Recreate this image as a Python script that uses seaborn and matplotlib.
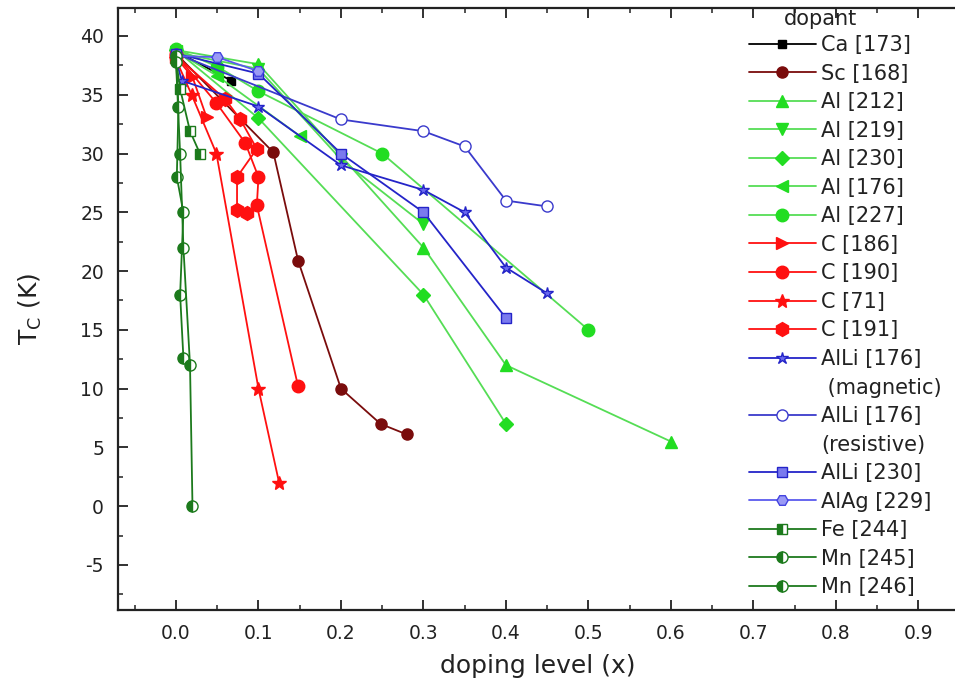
import numpy as np
import pandas as pd
import matplotlib
matplotlib.use("Agg")
import matplotlib.pyplot as plt
from matplotlib.lines import Line2D
from matplotlib.ticker import MultipleLocator
import seaborn as sns

sns.set_theme(style="white")
plt.rcParams['font.family'] = ['DejaVu Sans']
plt.rcParams['axes.unicode_minus'] = False

# ---------------- data ----------------
ca173_x = [0.0, 0.067]
ca173_y = [38.7, 36.2]
sc168_x = [0.0, 0.118, 0.148, 0.2, 0.248, 0.28]
sc168_y = [38.5, 30.1, 20.9, 10.0, 7.0, 6.1]
al212_x = [0.0, 0.1, 0.3, 0.4, 0.6]
al212_y = [38.8, 37.6, 22.0, 12.0, 5.5]
al219_x = [0.0, 0.1, 0.2, 0.3]
al219_y = [38.6, 37.2, 29.5, 24.0]
al230_x = [0.0, 0.1, 0.3, 0.4]
al230_y = [38.8, 33.0, 18.0, 7.0]
al176_x = [0.0, 0.05, 0.15]
al176_y = [38.7, 36.6, 31.5]
al227_x = [0.0, 0.05, 0.1, 0.25, 0.5]
al227_y = [38.9, 37.4, 35.3, 30.0, 15.0]
c186_x = [0.0, 0.02, 0.037]
c186_y = [38.2, 36.5, 33.1]
c190_x = [0.0, 0.049, 0.084, 0.1, 0.098, 0.148]
c190_y = [38.4, 34.3, 30.9, 28.0, 25.6, 10.2]
c71_x = [0.0, 0.019, 0.049, 0.1, 0.125]
c71_y = [38.0, 35.0, 30.0, 10.0, 2.0]
c191_x = [0.0, 0.06, 0.078, 0.098, 0.074, 0.074, 0.086]
c191_y = [38.3, 34.6, 32.9, 30.4, 28.0, 25.2, 24.9]
alli176m_x = [0.0, 0.007, 0.1, 0.2, 0.3, 0.35, 0.4, 0.45]
alli176m_y = [38.0, 36.2, 34.0, 29.0, 26.9, 25.0, 20.3, 18.1]
alli176r_x = [0.0, 0.2, 0.3, 0.35, 0.4, 0.45]
alli176r_y = [38.5, 32.9, 31.9, 30.6, 26.0, 25.5]
alli230_x = [0.0, 0.1, 0.2, 0.3, 0.4]
alli230_y = [38.5, 36.8, 30.0, 25.0, 16.0]
alag229_x = [0.0, 0.05, 0.1]
alag229_y = [38.3, 38.2, 37.0]
fe244_x = [0.0, 0.005, 0.017, 0.029]
fe244_y = [38.0, 35.5, 31.9, 30.0]
mn245_x = [0.0, 0.003, 0.001, 0.009, 0.005, 0.009]
mn245_y = [38.3, 34.0, 28.0, 25.0, 18.0, 12.6]
mn246_x = [0.0, 0.005, 0.009, 0.017, 0.02]
mn246_y = [37.8, 30.0, 22.0, 12.0, 0.0]

labels = ["Ca [173]", "Sc [168]", "Al [212]", "Al [219]", "Al [230]", "Al [176]",
          "Al [227]", "C [186]", "C [190]", "C [71]", "C [191]", "AlLi [176]",
          "AlLi [176] ", "AlLi [230]", "AlAg [229]", "Fe [244]", "Mn [245]", "Mn [246]"]
series_x = [ca173_x, sc168_x, al212_x, al219_x, al230_x, al176_x, al227_x, c186_x,
            c190_x, c71_x, c191_x, alli176m_x, alli176r_x, alli230_x, alag229_x,
            fe244_x, mn245_x, mn246_x]
series_y = [ca173_y, sc168_y, al212_y, al219_y, al230_y, al176_y, al227_y, c186_y,
            c190_y, c71_y, c191_y, alli176m_y, alli176r_y, alli230_y, alag229_y,
            fe244_y, mn245_y, mn246_y]

GREEN = "#22dd22"
GLINE = "#55dd55"
RED = "#ff1010"
BLUE = "#2424c8"
DGREEN = "#1c7a1c"
DRED = "#7a0c0c"

styles = [
    dict(color="black", marker="s", mfc="black", mec="black", ms=6),
    dict(color=DRED, marker="o", mfc=DRED, mec=DRED, ms=8),
    dict(color=GLINE, marker="^", mfc=GREEN, mec=GREEN, ms=9),
    dict(color=GLINE, marker="v", mfc=GREEN, mec=GREEN, ms=9),
    dict(color=GLINE, marker="D", mfc=GREEN, mec=GREEN, ms=7),
    dict(color=GLINE, marker="<", mfc=GREEN, mec=GREEN, ms=9),
    dict(color=GLINE, marker="o", mfc=GREEN, mec=GREEN, ms=9),
    dict(color=RED, marker=">", mfc=RED, mec=RED, ms=9),
    dict(color=RED, marker="o", mfc=RED, mec=RED, ms=9),
    dict(color=RED, marker="*", mfc=RED, mec=RED, ms=10),
    dict(color=RED, marker="h", mfc=RED, mec=RED, ms=10),
    dict(color=BLUE, marker="*", mfc="#6a6aee", mec=BLUE, ms=9),
    dict(color="#3a3acc", marker="o", mfc="white", mec="#3a3acc", ms=8),
    dict(color=BLUE, marker="s", mfc="#7a7aee", mec=BLUE, ms=7),
    dict(color="#5a5aee", marker="H", mfc="#9a9af5", mec="#4444e0", ms=8),
    dict(color=DGREEN, marker="s", mfc=DGREEN, mec=DGREEN, ms=7,
         fillstyle="left", markerfacecoloralt="white"),
    dict(color=DGREEN, marker="o", mfc=DGREEN, mec=DGREEN, ms=8,
         fillstyle="left", markerfacecoloralt="white"),
    dict(color=DGREEN, marker="o", mfc=DGREEN, mec=DGREEN, ms=8,
         fillstyle="left", markerfacecoloralt="white"),
]

fig = plt.figure(figsize=(9.55, 6.91), dpi=100)
ax = fig.add_axes([118/955, 1-610/691, (958-118)/955, (610-8)/691])

for lab, xs, ys, st in zip(labels, series_x, series_y, styles):
    df = pd.DataFrame({"x": xs, "y": ys})
    st = dict(st)
    sns.lineplot(data=df, x="x", y="y", ax=ax, sort=False, estimator=None,
                 label=lab, lw=1.3, markeredgewidth=1.0, **st)

ax.set_xlim(-0.0703, 0.948)
ax.set_ylim(-8.83, 42.38)
ax.xaxis.set_major_locator(MultipleLocator(0.1))
ax.xaxis.set_minor_locator(MultipleLocator(0.05))
ax.yaxis.set_major_locator(MultipleLocator(5))
ax.yaxis.set_minor_locator(MultipleLocator(2.5))
ax.set_xticks(np.round(np.arange(0.0, 0.91, 0.1), 1))
ax.set_xticklabels([f"{v:.1f}" for v in np.arange(0.0, 0.91, 0.1)])
ax.set_yticks(np.arange(-5, 41, 5))
ax.set_yticklabels([f"{v:d}" for v in np.arange(-5, 41, 5)])
ax.tick_params(which="both", direction="in", bottom=True, left=True, top=True,
               right=False, colors="#222222", labelcolor="#222222")
ax.tick_params(which="major", length=7, width=1.3, labelsize=13.5, pad=10)
ax.tick_params(which="minor", length=3.5, width=1.1)
for sp in ax.spines.values():
    sp.set_linewidth(1.6)
    sp.set_color("#222222")

ax.set_xlabel("doping level (x)", fontsize=18, color="#222222", labelpad=8)
ax.set_ylabel(r"T$_\mathregular{C}$ (K)", fontsize=18, color="#222222", labelpad=26)

# legend (built from the plotted lines)
handles, labs = ax.get_legend_handles_labels()
blank = Line2D([], [], linestyle="none", marker=None)
new_h, new_l = [], []
for h, l in zip(handles, labs):
    new_h.append(h)
    if l == "AlLi [176]":
        new_l.append("AlLi [176]")
        new_h.append(blank); new_l.append(" (magnetic)")
    elif l == "AlLi [176] ":
        new_l.append("AlLi [176]")
        new_h.append(blank); new_l.append("(resistive)")
    else:
        new_l.append(l)
leg = ax.legend(new_h, new_l, loc="upper left",
                bbox_to_anchor=(749/955, 1-35/691), bbox_transform=fig.transFigure,
                frameon=False, borderpad=0, borderaxespad=0, handlelength=3.2,
                handletextpad=0.25, labelspacing=0.41, fontsize=15, numpoints=1)
for t in leg.get_texts():
    t.set_color("#222222")
fig.text(820/955, 1-19/691, "dopant", ha="center", va="center", fontsize=15,
         color="#222222")

fig.savefig("out.png", dpi=100)
